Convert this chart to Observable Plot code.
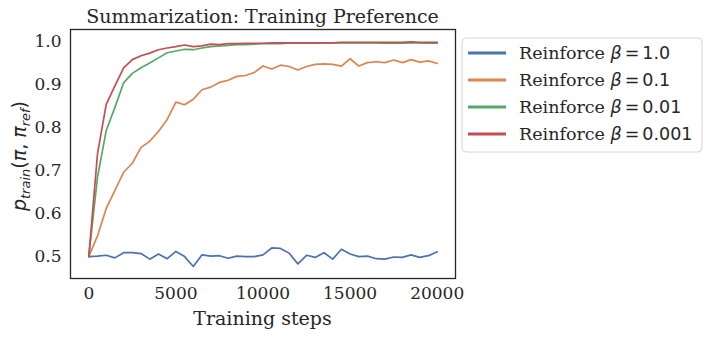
<!DOCTYPE html>
<html><head><meta charset="utf-8">
<script src="https://cdn.jsdelivr.net/npm/d3@7"></script>
<script src="https://cdn.jsdelivr.net/npm/@observablehq/plot@0.6"></script>
<style>body{margin:0;background:#fff} #chart svg{font-family:"DejaVu Serif",serif}</style>
</head><body><div id="chart"></div>
<script>
const steps=[0,500,1000,1500,2000,2500,3000,3500,4000,4500,5000,5500,6000,6500,7000,7500,8000,8500,9000,9500,10000,10500,11000,11500,12000,12500,13000,13500,14000,14500,15000,15500,16000,16500,17000,17500,18000,18500,19000,19500,20000];
const beta1=[0.5,0.501,0.503,0.497,0.509,0.509,0.507,0.494,0.506,0.495,0.512,0.5,0.477,0.504,0.501,0.502,0.496,0.501,0.5,0.5,0.504,0.52,0.519,0.508,0.483,0.503,0.498,0.509,0.494,0.517,0.506,0.5,0.501,0.495,0.494,0.499,0.498,0.504,0.498,0.502,0.511];
const beta01=[0.5,0.548,0.612,0.654,0.696,0.717,0.754,0.768,0.791,0.819,0.859,0.853,0.866,0.888,0.894,0.905,0.91,0.919,0.921,0.928,0.943,0.936,0.945,0.942,0.934,0.942,0.947,0.948,0.947,0.943,0.96,0.943,0.951,0.953,0.951,0.957,0.951,0.958,0.952,0.955,0.949];
const beta001=[0.5,0.685,0.793,0.847,0.904,0.926,0.939,0.95,0.962,0.974,0.978,0.982,0.981,0.985,0.988,0.99,0.991,0.993,0.993,0.994,0.995,0.995,0.995,0.996,0.996,0.996,0.996,0.997,0.997,0.997,0.997,0.997,0.997,0.997,0.996,0.996,0.996,0.997,0.997,0.996,0.996];
const beta0001=[0.5,0.739,0.854,0.897,0.939,0.958,0.967,0.973,0.981,0.985,0.988,0.992,0.988,0.99,0.994,0.993,0.995,0.995,0.996,0.996,0.996,0.997,0.997,0.997,0.997,0.997,0.997,0.997,0.997,0.998,0.998,0.998,0.998,0.998,0.998,0.998,0.998,0.999,0.998,0.998,0.998];
const betaLabels=["1.0","0.1","0.01","0.001"];
const colors=["#4c72b0","#dd8452","#55a868","#c44e52"];
const xTicks=[0,5000,10000,15000,20000];
const yTicks=[0.5,0.6,0.7,0.8,0.9,1.0];
const titleText="Summarization: Training Preference";
const xLabelText="Training steps";

const series=[beta1,beta01,beta001,beta0001];
const rows=[];
series.forEach((vals,k)=>vals.forEach((v,i)=>rows.push({step:steps[i],value:v,series:betaLabels[k]})));

const W=710,H=338,mL=70,mR=255,mT=29,mB=60;
const chart=Plot.plot({
  width:W,height:H,marginLeft:mL,marginRight:mR,marginTop:mT,marginBottom:mB,
  style:{fontFamily:"DejaVu Serif, serif",fontSize:"17px",color:"#262626",background:"#fff"},
  x:{domain:[-1050,21050],ticks:xTicks,tickSize:0,tickPadding:8,label:null,tickFormat:d=>String(d)},
  y:{domain:[0.449,1.028],ticks:yTicks,tickSize:0,tickPadding:9,label:null,tickFormat:d=>d.toFixed(1)},
  color:{domain:betaLabels,range:colors},
  marks:[
    Plot.line(rows,{x:"step",y:"value",z:"series",stroke:"series",strokeWidth:1.7}),
    Plot.frame({stroke:"#262626",strokeWidth:1.3})
  ]
});
document.getElementById("chart").appendChild(chart);

const svg=d3.select(chart);
const cx=mL+(W-mL-mR)/2;
svg.append("text").attr("x",cx).attr("y",23).attr("text-anchor","middle")
  .attr("font-size",19).attr("fill","#262626").text(titleText);
svg.append("text").attr("x",cx).attr("y",325).attr("text-anchor","middle")
  .attr("font-size",19).attr("fill","#262626").text(xLabelText);
const yl=svg.append("text").attr("transform","translate(26,156) rotate(-90)")
  .attr("text-anchor","middle").attr("font-size",19).attr("fill","#262626")
  .attr("font-family","DejaVu Sans, sans-serif");
yl.append("tspan").attr("font-style","italic").text("p");
yl.append("tspan").attr("font-style","italic").attr("font-size",13).attr("dy",4).text("train");
yl.append("tspan").attr("dy",-4).text("(");
yl.append("tspan").attr("font-style","italic").text("π");
yl.append("tspan").text(", ");
yl.append("tspan").attr("font-style","italic").text("π");
yl.append("tspan").attr("font-style","italic").attr("font-size",13).attr("dy",4).text("ref");
yl.append("tspan").attr("dy",-4).text(")");

const lg=svg.append("g").attr("text-anchor","start");
lg.append("rect").attr("x",462).attr("y",38).attr("width",240).attr("height",114).attr("rx",4)
  .attr("fill","#fff").attr("stroke","#d4d4d4").attr("stroke-width",1);
betaLabels.forEach((b,k)=>{
  const y=53+k*27;
  lg.append("line").attr("x1",468).attr("x2",506).attr("y1",y).attr("y2",y)
    .attr("stroke",colors[k]).attr("stroke-width",3);
  const t=lg.append("text").attr("x",519).attr("y",y+6).attr("font-size",17.5).attr("fill","#262626");
  t.append("tspan").text("Reinforce ");
  t.append("tspan").attr("font-family","DejaVu Sans, sans-serif").attr("font-style","italic").text("β");
  t.append("tspan").attr("font-family","DejaVu Sans, sans-serif").attr("dx",3).text("=");
  t.append("tspan").attr("font-family","DejaVu Sans, sans-serif").attr("dx",3).text(b);
});
</script></body></html>
